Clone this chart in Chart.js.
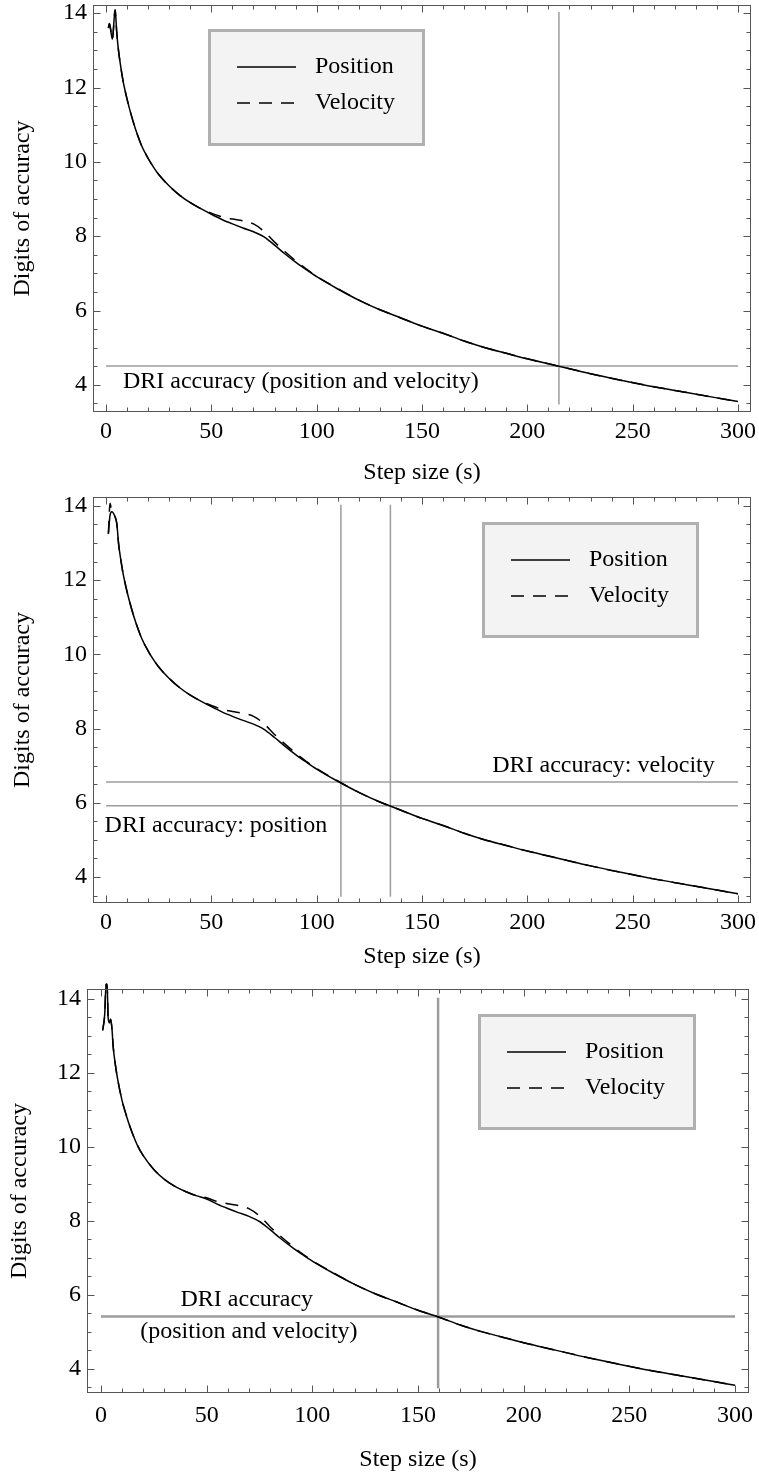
<!DOCTYPE html>
<html>
<head>
<meta charset="utf-8">
<script src="https://cdn.jsdelivr.net/npm/chart.js@4"></script>
<style>
  body { margin: 0; background: #fff; }
  canvas { position: absolute; left: 0; }
</style>
</head>
<body>
<canvas id="chart1" width="759" height="490" style="top:0px"></canvas>
<canvas id="chart2" width="759" height="490" style="top:490px"></canvas>
<canvas id="chart3" width="759" height="494" style="top:980px"></canvas>
<script>
// axis labels
const xTicks = [0, 50, 100, 150, 200, 250, 300];
const yTicks = [4, 6, 8, 10, 12, 14];

// noisy start of each panel (step size, digits)
const head1Steps = [1.1, 1.6, 3.0, 4.3, 5.1];
const head1Position = [13.6, 13.72, 13.3, 14.09, 13.46];
const head1Velocity = [13.6, 13.72, 13.3, 14.09, 13.46];

const head2Steps = [1.1, 1.9, 2.7, 4.3, 5.1];
const head2Position = [13.25, 13.75, 13.84, 13.7, 13.52];
const head2Velocity = [13.25, 14.07, 13.84, 13.7, 13.52];

const head3Steps = [0.8, 1.8, 2.4, 2.9, 3.4, 4.0, 4.6, 5.2, 5.8, 7, 8, 10, 12, 14, 17, 20, 25, 30, 35, 40, 45];
const head3Position = [13.15, 13.6, 14.4, 14.4, 13.5, 13.35, 13.45, 13.2, 12.7, 12.15, 11.8, 11.25, 10.85, 10.5, 10.07, 9.76, 9.39, 9.12, 8.93, 8.79, 8.68];
const head3Velocity = [13.15, 13.6, 14.4, 14.4, 13.5, 13.35, 13.45, 13.2, 12.7, 12.15, 11.8, 11.25, 10.85, 10.5, 10.07, 9.76, 9.39, 9.12, 8.93, 8.79, 8.68];

// early decline shared by panels 1 and 2
const earlySteps = [6, 7, 8, 10, 12, 14, 17, 20, 22.5, 25, 30, 35, 40, 45];
const earlyDigits = [12.95, 12.55, 12.2, 11.68, 11.25, 10.88, 10.42, 10.09, 9.86, 9.66, 9.35, 9.1, 8.9, 8.74];

// rest of the curve, same in all panels
const lateSteps = [50, 55, 60, 65, 70, 75, 80, 85, 90, 95, 100, 110, 120, 130, 140, 150, 160, 170, 180, 190, 200, 215, 230, 245, 260, 275, 290, 300];
const latePosition = [8.59, 8.45, 8.33, 8.22, 8.12, 7.98, 7.76, 7.52, 7.3, 7.1, 6.91, 6.58, 6.28, 6.02, 5.8, 5.58, 5.39, 5.18, 5.0, 4.85, 4.7, 4.5, 4.3, 4.12, 3.95, 3.8, 3.65, 3.55];
const lateVelocity = [8.62, 8.52, 8.46, 8.41, 8.33, 8.13, 7.84, 7.58, 7.34, 7.12, 6.92, 6.59, 6.28, 6.02, 5.8, 5.58, 5.39, 5.18, 5.0, 4.85, 4.7, 4.5, 4.3, 4.12, 3.95, 3.8, 3.65, 3.55];

// DRI accuracy guides
const guideStepRange = [0, 300];
const guideDigitRange = [3.47, 14.03];
const driLevels1 = [4.51];
const driSteps1 = [215];
const driLevels2 = [6.56, 5.92];
const driSteps2 = [111.5, 135];
const driLevels3 = [5.41];
const driSteps3 = [159.5];

const FONT = "'Liberation Serif', 'Times New Roman', serif";
const FONT_SIZE = 24;

function pairs(xs, ys) {
  return xs.map((x, i) => ({ x: x, y: ys[i] }));
}

function guides(levels, steps) {
  const out = [];
  levels.forEach(l => out.push(pairs(guideStepRange, [l, l])));
  steps.forEach(s => out.push(pairs([s, s], guideDigitRange)));
  return out;
}

// frame with inward ticks, text labels and boxed legend
const framePlugin = {
  id: 'frame',
  afterDraw(chart, args, opts) {
    const { ctx, chartArea: a, scales: { x, y } } = chart;
    ctx.save();
    ctx.strokeStyle = '#555';
    ctx.lineWidth = 1;
    const L = Math.round(a.left) + 0.5, R = Math.round(a.right) - 0.5;
    const T = Math.round(a.top) + 0.5, B = Math.round(a.bottom) - 0.5;
    ctx.strokeRect(L, T, R - L, B - T);

    ctx.beginPath();
    for (let v = 0; v <= 300; v += 10) {
      const len = v % 50 === 0 ? 7 : 4;
      const px = Math.round(x.getPixelForValue(v)) + 0.5;
      ctx.moveTo(px, B); ctx.lineTo(px, B - len);
      ctx.moveTo(px, T); ctx.lineTo(px, T + len);
    }
    for (let v = 3.5; v <= 14; v += 0.5) {
      const len = v % 2 === 0 ? 7 : 4;
      const py = Math.round(y.getPixelForValue(v)) + 0.5;
      ctx.moveTo(L, py); ctx.lineTo(L + len, py);
      ctx.moveTo(R, py); ctx.lineTo(R - len, py);
    }
    ctx.stroke();

    ctx.fillStyle = '#000';
    ctx.font = FONT_SIZE + 'px ' + FONT;
    ctx.textBaseline = 'middle';
    opts.labels.forEach(t => {
      ctx.textAlign = t.align;
      ctx.fillText(t.text, x.getPixelForValue(t.x), y.getPixelForValue(t.y));
    });

    const lg = opts.legend;
    ctx.fillStyle = '#f3f3f3';
    ctx.fillRect(lg.left, lg.top, lg.width, lg.height);
    ctx.strokeStyle = '#b0b0b0';
    ctx.lineWidth = 3;
    ctx.strokeRect(lg.left + 1.5, lg.top + 1.5, lg.width - 3, lg.height - 3);
    ctx.strokeStyle = '#000';
    ctx.lineWidth = 1.4;
    chart.data.datasets.slice(0, 2).forEach((ds, i) => {
      const ly = lg.top + 38 + i * 36;
      ctx.setLineDash(ds.borderDash || []);
      ctx.beginPath();
      ctx.moveTo(lg.left + 29, ly); ctx.lineTo(lg.left + 88, ly);
      ctx.stroke();
      ctx.setLineDash([]);
      ctx.fillStyle = '#000';
      ctx.textAlign = 'left';
      ctx.fillText(ds.label, lg.left + 107, ly);
    });
    ctx.restore();
  }
};

function makeChart(cfg) {
  const canvas = document.getElementById(cfg.id);
  const datasets = [
    { label: 'Position', data: cfg.position, borderColor: '#000', borderWidth: 1.5,
      pointRadius: 0, cubicInterpolationMode: 'monotone', clip: false },
    { label: 'Velocity', data: cfg.velocity, borderColor: '#000', borderWidth: 1.5, borderDash: [13, 9],
      pointRadius: 0, cubicInterpolationMode: 'monotone', clip: false }
  ];
  cfg.guides.forEach(g => datasets.push({
    label: 'guide', data: g, borderColor: '#9c9c9c', borderWidth: cfg.guideWidth, pointRadius: 0
  }));

  return new Chart(canvas, {
    type: 'line',
    data: { datasets: datasets },
    options: {
      responsive: false,
      animation: false,
      devicePixelRatio: 1,
      layout: { padding: { top: cfg.area.top, right: 759 - cfg.area.right, left: 0, bottom: 0 } },
      plugins: {
        legend: { display: false },
        tooltip: { enabled: false },
        frame: { labels: cfg.labels, legend: cfg.legend }
      },
      scales: {
        x: {
          type: 'linear', min: cfg.xRange[0], max: cfg.xRange[1],
          grid: { display: false, drawTicks: false }, border: { display: false },
          ticks: { color: '#000', font: { family: FONT, size: FONT_SIZE }, padding: cfg.xTickPad, maxRotation: 0 },
          title: { display: true, text: 'Step size (s)', color: '#000', font: { family: FONT, size: FONT_SIZE },
                   padding: { top: 0, bottom: cfg.xTitlePad } },
          afterBuildTicks: s => { s.ticks = xTicks.map(v => ({ value: v })); },
          afterFit: s => {
            s.height = canvas.height - cfg.area.bottom;
            s.paddingLeft = 0; s.paddingRight = 0;
          }
        },
        y: {
          type: 'linear', min: cfg.yRange[0], max: cfg.yRange[1],
          grid: { display: false, drawTicks: false }, border: { display: false },
          ticks: { color: '#000', font: { family: FONT, size: FONT_SIZE }, padding: 6 },
          title: { display: true, text: 'Digits of accuracy', color: '#000', font: { family: FONT, size: FONT_SIZE },
                   padding: { top: cfg.yTitlePad, bottom: 0 } },
          afterBuildTicks: s => { s.ticks = yTicks.map(v => ({ value: v })); },
          afterFit: s => {
            s.width = cfg.area.left;
            s.paddingTop = 0; s.paddingBottom = 0;
          }
        }
      }
    },
    plugins: [framePlugin]
  });
}

makeChart({
  id: 'chart1',
  area: { left: 93, right: 751, top: 5, bottom: 412 },
  xRange: [-6.2, 306.2], yRange: [3.27, 14.22],
  xTickPad: 5.6, xTitlePad: 3, yTitlePad: 8.6,
  position: pairs(head1Steps.concat(earlySteps, lateSteps), head1Position.concat(earlyDigits, latePosition)),
  velocity: pairs(head1Steps.concat(earlySteps, lateSteps), head1Velocity.concat(earlyDigits, lateVelocity)),
  guides: guides(driLevels1, driSteps1), guideWidth: 1.5,
  labels: [{ text: 'DRI accuracy (position and velocity)', x: 8, y: 4.09, align: 'left' }],
  legend: { left: 208, top: 29, width: 217, height: 117 }
});

makeChart({
  id: 'chart2',
  area: { left: 93, right: 751, top: 7, bottom: 413 },
  xRange: [-6.2, 306.2], yRange: [3.30, 14.24],
  xTickPad: 5.6, xTitlePad: 8.6, yTitlePad: 8.6,
  position: pairs(head2Steps.concat(earlySteps, lateSteps), head2Position.concat(earlyDigits, latePosition)),
  velocity: pairs(head2Steps.concat(earlySteps, lateSteps), head2Velocity.concat(earlyDigits, lateVelocity)),
  guides: guides(driLevels2, driSteps2), guideWidth: 1.5,
  labels: [
    { text: 'DRI accuracy: velocity', x: 289, y: 6.99, align: 'right' },
    { text: 'DRI accuracy: position', x: -0.7, y: 5.38, align: 'left' }
  ],
  legend: { left: 482, top: 32, width: 217, height: 116 }
});

makeChart({
  id: 'chart3',
  area: { left: 87, right: 749, top: 9, bottom: 413 },
  xRange: [-6.6, 306.6], yRange: [3.34, 14.27],
  xTickPad: 8.6, xTitlePad: 0, yTitlePad: 5,
  position: pairs(head3Steps.concat(lateSteps), head3Position.concat(latePosition)),
  velocity: pairs(head3Steps.concat(lateSteps), head3Velocity.concat(lateVelocity)),
  guides: guides(driLevels3, driSteps3), guideWidth: 2.5,
  labels: [
    { text: 'DRI accuracy', x: 69, y: 5.86, align: 'center' },
    { text: '(position and velocity)', x: 70, y: 5.0, align: 'center' }
  ],
  legend: { left: 478, top: 34, width: 218, height: 116 }
});
</script>
</body>
</html>
